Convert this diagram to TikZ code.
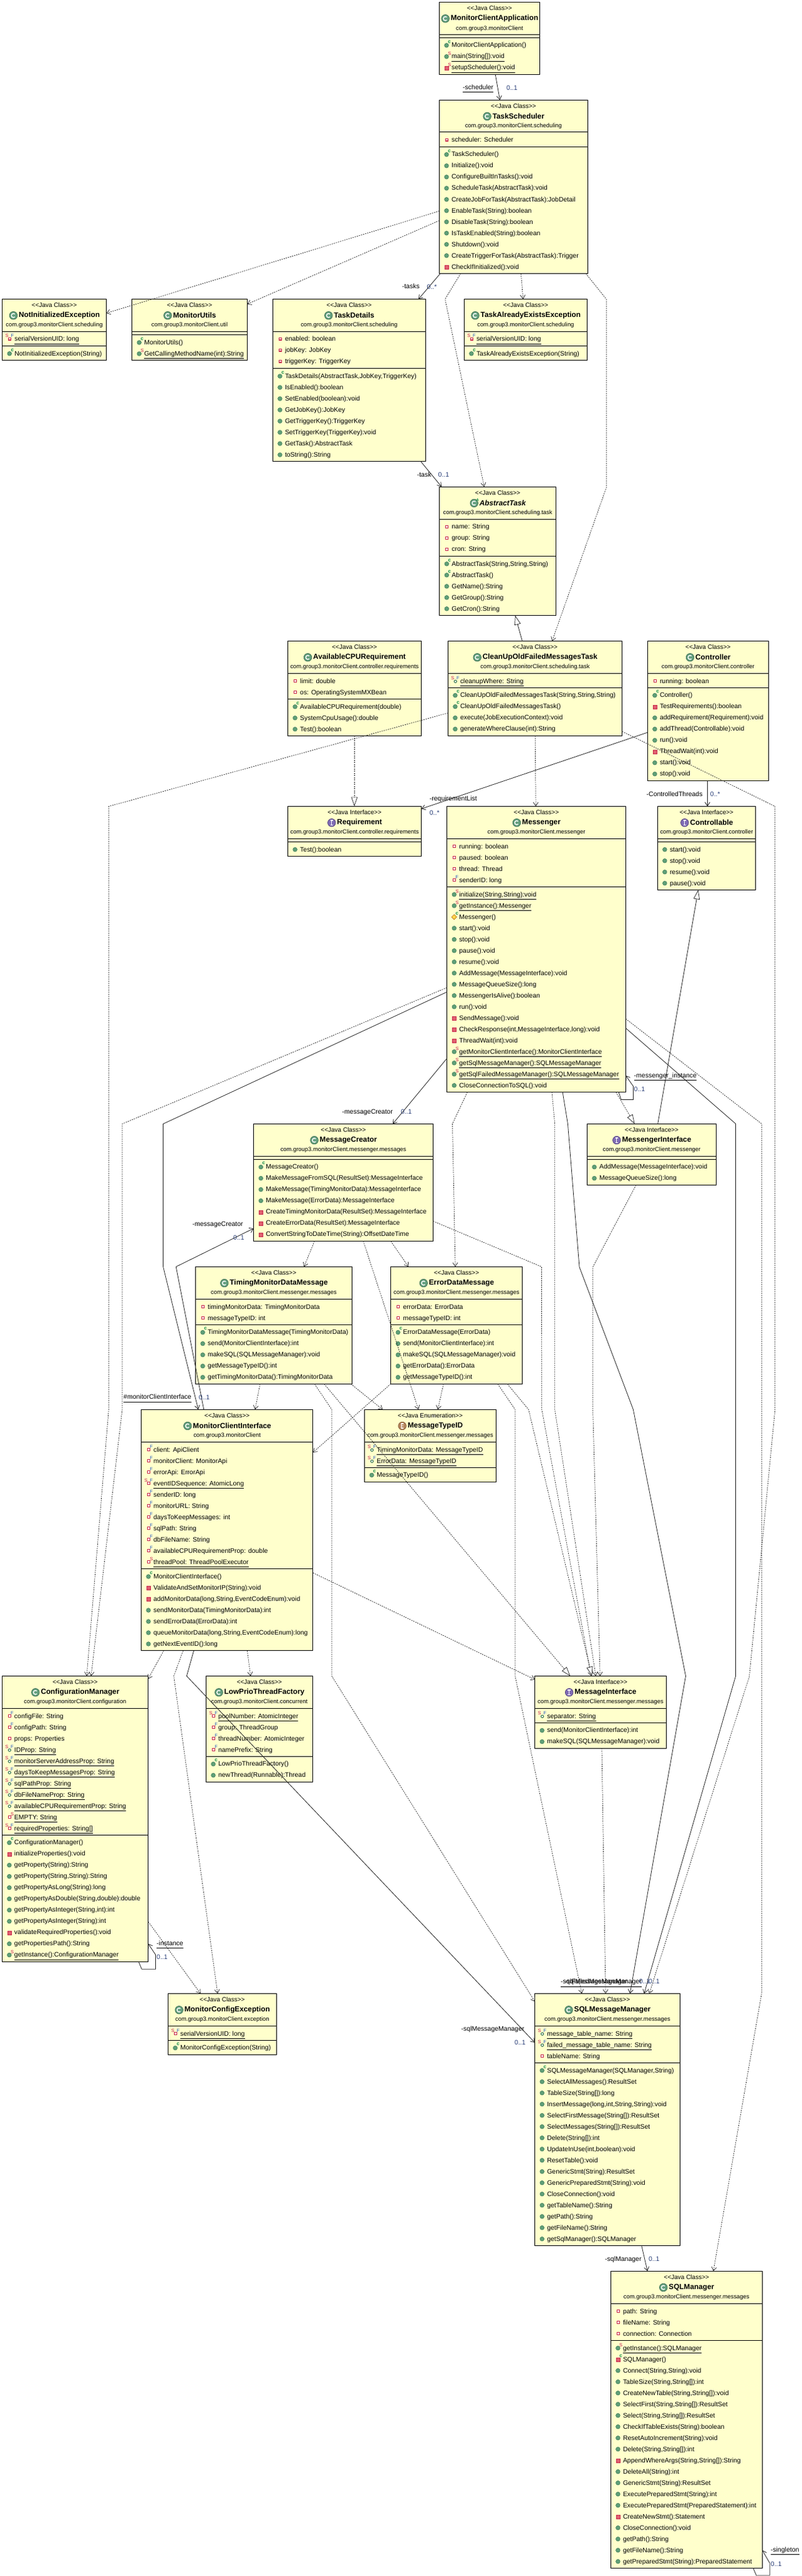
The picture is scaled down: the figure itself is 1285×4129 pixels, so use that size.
\documentclass[tikz,border=0pt]{standalone}
\usepackage{fontspec}
\usetikzlibrary{arrows.meta}
\newfontfamily\umlfont{Liberation Sans}
\definecolor{boxfill}{HTML}{FFFFCC}
\definecolor{pubgreen}{HTML}{5F9F78}
\definecolor{pubedge}{HTML}{3C7A55}
\definecolor{privred}{HTML}{E0606F}
\definecolor{privedge}{HTML}{C8294B}
\definecolor{flagS}{HTML}{C8184B}
\definecolor{flagF}{HTML}{2A5CC0}
\definecolor{flagC}{HTML}{0E8A45}
\definecolor{icC}{HTML}{4A8F68}
\definecolor{icI}{HTML}{6A52A8}
\definecolor{icE}{HTML}{A8703F}
\definecolor{multc}{HTML}{2A3F78}
\definecolor{conn}{HTML}{222222}
\tikzset{
  cbox/.style={rectangle,draw=black,fill=boxfill,line width=1pt,inner sep=0pt,outer sep=0pt,anchor=north west},
  stereo/.style={inner sep=0pt,font=\umlfont\fontsize{10}{12}\selectfont},
  ctitle/.style={inner sep=0pt,font=\umlfont\bfseries\fontsize{11.8}{14}\selectfont},
  cpkg/.style={inner sep=0pt,font=\umlfont\fontsize{9.4}{12}\selectfont},
  rowtext/.style={inner sep=0pt,anchor=base west,font=\umlfont\fontsize{10.45}{12}\selectfont},
  flagtext/.style={inner sep=0pt,font=\umlfont\fontsize{7.5}{8}\selectfont},
  lbl/.style={inner sep=0pt,anchor=base west,font=\umlfont\fontsize{10.5}{12}\selectfont},
  mlt/.style={lbl,text=multc},
  seprule/.style={line width=1pt,draw=black},
  dep/.style={draw=conn,line width=0.7pt,dash pattern=on 2pt off 1.5pt,-{Straight Barb[length=6pt,width=8pt,line width=0.7pt]}},
  assoc/.style={draw=conn,line width=0.8pt,-{Straight Barb[length=6pt,width=8pt,line width=0.8pt]}},
  gensolid/.style={draw=conn,line width=0.8pt,-{Triangle[length=15pt,width=10pt,fill=white,line width=0.7pt]}},
  gendash/.style={draw=conn,line width=0.7pt,dash pattern=on 2pt off 1.5pt,-{Triangle[length=15pt,width=10pt,fill=white,line width=0.7pt]}},
}
\newcount\rownum
\gdef\rowY{0}\gdef\bxa{0}\gdef\bxb{0}
% class box: name x1 y1 x2 y2 stereotype icon title package
\newcommand{\classbox}[9]{%
  \gdef\bxa{#2}\gdef\bxb{#4}%
  \node[cbox,minimum width={(#4-#2)*1pt},minimum height={(#5-#3)*1pt}] (#1) at (#2,#3) {};
  \node[stereo] (#1-st) at ([yshift=-9.5pt]#1.north) {#6};
  \node[ctitle] (#1-title) at ([xshift=8pt,yshift=-26pt]#1.north) {#8};
  \node[cpkg] (#1-pkg) at ([yshift=-42pt]#1.north) {#9};
  \path (#1-title.west) ++(-8.5,0.2) coordinate (#1-ic);
  \csname hd#7\endcsname{#1-ic}
}
\newcommand{\hdbase}[2]{\fill[#2!85!white,draw=#2!75!black,line width=0.7pt] (#1) circle (6.3pt);}
\newcommand{\hdC}[1]{\hdbase{#1}{icC}\draw[white,line width=1.4pt,shift={(#1)}] (45:3.2pt) arc (45:315:3.2pt);}
\newcommand{\hdI}[1]{\hdbase{#1}{icI}\draw[white,line width=1.3pt,shift={(#1)}] (0pt,3.6pt) -- (0pt,-3.6pt) (-2.2pt,3.6pt) -- (2.2pt,3.6pt) (-2.2pt,-3.6pt) -- (2.2pt,-3.6pt);}
\newcommand{\hdE}[1]{\hdbase{#1}{icE}\draw[white,line width=1.1pt,shift={(#1)}] (2.4pt,3.5pt) -- (-2pt,3.5pt) -- (-2pt,-3.5pt) -- (2.4pt,-3.5pt) (-2pt,0pt) -- (2pt,0pt);}
\newcommand{\sepat}[1]{%
  \draw[seprule] (\bxa,#1) -- (\bxb,#1);
  \pgfmathparse{#1+12}\global\let\rowY\pgfmathresult
}
\newcommand{\flagS}[1]{\node[flagtext,text=flagS] (i\the\rownum s) at ({\bxa+#1},{\rowY-4.6}) {S};}
\newcommand{\flagF}{\node[flagtext,text=flagF] (i\the\rownum f) at ({\bxa+16.2},{\rowY-4.8}) {F};}
\newcommand{\flagc}{\node[flagtext,text=flagC,font=\umlfont\bfseries\fontsize{8}{8}\selectfont] (i\the\rownum c) at ({\bxa+16.2},{\rowY-5.4}) {c};}
\newcommand{\icsq}{\draw[privedge,fill=white,line width=1.1pt] ({\bxa+10.2},{\rowY-1.7}) rectangle ({\bxa+13.9},{\rowY+2});}
\newcommand{\icring}{\draw[pubedge,fill=white,line width=1.1pt] ({\bxa+12},{\rowY+0.8}) circle (2.1pt);}
\newcommand{\icdot}{\fill[pubgreen,draw=pubedge,line width=0.5pt] ({\bxa+11.6},{\rowY+0.4}) circle (3.4pt);}
\newcommand{\icpm}{\fill[privred,draw=privedge,line width=0.6pt] ({\bxa+8.8},{\rowY-2.4}) rectangle ({\bxa+14.8},{\rowY+3.6});}
\newcommand{\icdia}{\fill[yellow!60!orange!70!white,draw=orange!70!black,line width=0.5pt] ({\bxa+7.5},{\rowY+0.5}) -- ({\bxa+11.6},{\rowY-3.6}) -- ({\bxa+15.7},{\rowY+0.5}) -- ({\bxa+11.6},{\rowY+4.6}) -- cycle;}
\makeatletter
\@namedef{kd@f}{\icsq}
\@namedef{kd@ff}{\icsq\flagF}
\@namedef{kd@fsf}{\icsq\flagS{7.6}\flagF}
\@namedef{kd@fs}{\icsq\flagS{16.4}}
\@namedef{kd@rsf}{\icring\flagS{7.6}\flagF}
\@namedef{kd@m}{\icdot}
\@namedef{kd@mc}{\icdot\flagc}
\@namedef{kd@ms}{\icdot\flagS{16.4}}
\@namedef{kd@p}{\icpm}
\@namedef{kd@pc}{\icpm\flagc}
\@namedef{kd@ps}{\icpm\flagS{16.4}}
\@namedef{kd@dc}{\icdia\flagc}
\makeatother
\newcommand{\nextrow}{\pgfmathparse{\rowY+18}\global\let\rowY\pgfmathresult}
\newcommand{\rw}[2]{%
  \global\advance\rownum by 1
  \csname kd@#1\endcsname
  \node[rowtext] (r\the\rownum) at ({\bxa+19.5},{\rowY+3.7}) {#2};
  \nextrow
}
\newcommand{\ru}[2]{%
  \global\advance\rownum by 1
  \csname kd@#1\endcsname
  \node[rowtext] (r\the\rownum) at ({\bxa+19.5},{\rowY+3.7}) {#2};
  \draw[line width=0.8pt,black] ([yshift=-4.3pt]r\the\rownum.base west) -- ([yshift=-4.3pt]r\the\rownum.base east);
  \nextrow
}
\newcommand{\lb}[4]{\node[lbl] (#1) at (#2,{#3+3.7}) {#4};}
\newcommand{\lbu}[4]{\node[lbl] (#1) at (#2,{#3+3.7}) {#4};
  \draw[line width=0.8pt,black] ([yshift=-4.2pt]#1.base west) -- ([yshift=-4.2pt]#1.base east);}
\newcommand{\mlabel}[4]{\node[mlt] (#1) at (#2,{#3+3.7}) {#4};}
\begin{document}
\begin{tikzpicture}[x=1pt,y=-1pt]
\useasboundingbox (0,0) rectangle (1285,4129);
\newcommand{\JC}{<<Java Class>>}
\newcommand{\JI}{<<Java Interface>>}
\newcommand{\PK}{com.group3.monitorClient}
%
\classbox{app}{704.4}{3.6}{865.5}{119.6}{\JC}{C}{MonitorClientApplication}{\PK}
\sepat{55.4}\sepat{60.3}
\rw{mc}{MonitorClientApplication()}\ru{ms}{main(String[]):void}\ru{ps}{setupScheduler():void}
%
\classbox{ts}{704.4}{160.3}{942.3}{438.4}{\JC}{C}{TaskScheduler}{\PK.scheduling}
\sepat{212}\rw{f}{scheduler: Scheduler}
\sepat{235.3}
\rw{mc}{TaskScheduler()}\rw{m}{Initialize():void}\rw{m}{ConfigureBuiltInTasks():void}\rw{m}{ScheduleTask(AbstractTask):void}\rw{m}{CreateJobForTask(AbstractTask):JobDetail}\rw{m}{EnableTask(String):boolean}\rw{m}{DisableTask(String):boolean}\rw{m}{IsTaskEnabled(String):boolean}\rw{m}{Shutdown():void}\rw{m}{CreateTriggerForTask(AbstractTask):Trigger}\rw{p}{CheckIfInitialized():void}
%
\classbox{nie}{3.6}{479.5}{170.5}{577.5}{\JC}{C}{NotInitializedException}{\PK.scheduling}
\sepat{531}\ru{fsf}{serialVersionUID: long}
\sepat{554.4}\rw{mc}{NotInitializedException(String)}
%
\classbox{mu}{211.6}{479.5}{396.4}{577.5}{\JC}{C}{MonitorUtils}{\PK.util}
\sepat{531}\sepat{536.6}\rw{mc}{MonitorUtils()}\ru{ms}{GetCallingMethodName(int):String}
%
\classbox{td}{437.3}{479.5}{682.4}{739.2}{\JC}{C}{TaskDetails}{\PK.scheduling}
\sepat{531}\rw{f}{enabled: boolean}\rw{f}{jobKey: JobKey}\rw{f}{triggerKey: TriggerKey}
\sepat{590.6}\rw{mc}{TaskDetails(AbstractTask,JobKey,TriggerKey)}\rw{m}{IsEnabled():boolean}\rw{m}{SetEnabled(boolean):void}\rw{m}{GetJobKey():JobKey}\rw{m}{GetTriggerKey():TriggerKey}\rw{m}{SetTriggerKey(TriggerKey):void}\rw{m}{GetTask():AbstractTask}\rw{m}{toString():String}
%
\classbox{tae}{744.3}{479.5}{941.5}{577.5}{\JC}{C}{TaskAlreadyExistsException}{\PK.scheduling}
\sepat{531}\ru{fsf}{serialVersionUID: long}
\sepat{554.4}\rw{mc}{TaskAlreadyExistsException(String)}
%
\classbox{at}{704.7}{780.2}{891.5}{986.5}{\JC}{C}{\itshape AbstractTask}{\PK.scheduling.task}
\node[flagtext,text=flagC,font=\umlfont\bfseries\fontsize{6}{6}\selectfont] (at-A) at ([xshift=5.5pt,yshift=5pt]at-ic) {A};
\sepat{832.2}\rw{f}{name: String}\rw{f}{group: String}\rw{f}{cron: String}
\sepat{891.4}\rw{mc}{AbstractTask(String,String,String)}\rw{mc}{AbstractTask()}\rw{m}{GetName():String}\rw{m}{GetGroup():String}\rw{m}{GetCron():String}
%
\classbox{cpu}{461.5}{1027.5}{675.4}{1179.3}{\JC}{C}{AvailableCPURequirement}{\PK.controller.requirements}
\sepat{1079.4}\rw{f}{limit: double}\rw{f}{os: OperatingSystemMXBean}
\sepat{1120.4}\rw{mc}{AvailableCPURequirement(double)}\rw{m}{SystemCpuUsage():double}\rw{m}{Test():boolean}
%
\classbox{clean}{718.3}{1027.5}{997.6}{1179.3}{\JC}{C}{CleanUpOldFailedMessagesTask}{\PK.scheduling.task}
\sepat{1079.4}\ru{rsf}{cleanupWhere: String}
\sepat{1102.2}\rw{mc}{CleanUpOldFailedMessagesTask(String,String,String)}\rw{mc}{CleanUpOldFailedMessagesTask()}\rw{m}{execute(JobExecutionContext):void}\rw{m}{generateWhereClause(int):String}
%
\classbox{ctl}{1038.3}{1027.5}{1232.4}{1251.4}{\JC}{C}{Controller}{\PK.controller}
\sepat{1079.4}\rw{f}{running: boolean}
\sepat{1102.2}\rw{mc}{Controller()}\rw{p}{TestRequirements():boolean}\rw{m}{addRequirement(Requirement):void}\rw{m}{addThread(Controllable):void}\rw{m}{run():void}\rw{p}{ThreadWait(int):void}\rw{m}{start():void}\rw{m}{stop():void}
%
\classbox{req}{461.5}{1292.5}{675.6}{1372.5}{\JI}{I}{Requirement}{\PK.controller.requirements}
\sepat{1344.3}\sepat{1349.3}\rw{m}{Test():boolean}
%
\classbox{msg}{716.7}{1292.5}{1003.4}{1750.4}{\JC}{C}{Messenger}{\PK.messenger}
\sepat{1344.3}\rw{f}{running: boolean}\rw{f}{paused: boolean}\rw{f}{thread: Thread}\rw{ff}{senderID: long}
\sepat{1421.4}\ru{ms}{initialize(String,String):void}\ru{ms}{getInstance():Messenger}\rw{dc}{Messenger()}\rw{m}{start():void}\rw{m}{stop():void}\rw{m}{pause():void}\rw{m}{resume():void}\rw{m}{AddMessage(MessageInterface):void}\rw{m}{MessageQueueSize():long}\rw{m}{MessengerIsAlive():boolean}\rw{m}{run():void}\rw{p}{SendMessage():void}\rw{p}{CheckResponse(int,MessageInterface,long):void}\rw{p}{ThreadWait(int):void}\ru{ms}{getMonitorClientInterface():MonitorClientInterface}\ru{ms}{getSqlMessageManager():SQLMessageManager}\ru{ms}{getSqlFailedMessageManager():SQLMessageManager}\rw{m}{CloseConnectionToSQL():void}
%
\classbox{ctlb}{1054.3}{1292.5}{1211.6}{1426.4}{\JI}{I}{Controllable}{\PK.controller}
\sepat{1344.3}\sepat{1349.3}\rw{m}{start():void}\rw{m}{stop():void}\rw{m}{resume():void}\rw{m}{pause():void}
%
\classbox{mc}{406.7}{1801.4}{694.5}{1989.3}{\JC}{C}{MessageCreator}{\PK.messenger.messages}
\sepat{1853.2}\sepat{1858.2}\rw{mc}{MessageCreator()}\rw{m}{MakeMessageFromSQL(ResultSet):MessageInterface}\rw{m}{MakeMessage(TimingMonitorData):MessageInterface}\rw{m}{MakeMessage(ErrorData):MessageInterface}\rw{p}{CreateTimingMonitorData(ResultSet):MessageInterface}\rw{p}{CreateErrorData(ResultSet):MessageInterface}\rw{p}{ConvertStringToDateTime(String):OffsetDateTime}
%
\classbox{msgi}{941.4}{1801.4}{1148.5}{1899.2}{\JI}{I}{MessengerInterface}{\PK.messenger}
\sepat{1853.2}\sepat{1858.2}\rw{m}{AddMessage(MessageInterface):void}\rw{m}{MessageQueueSize():long}
%
\classbox{tdm}{313.5}{2030.4}{564.6}{2218.2}{\JC}{C}{TimingMonitorDataMessage}{\PK.messenger.messages}
\sepat{2082.5}\rw{f}{timingMonitorData: TimingMonitorData}\rw{f}{messageTypeID: int}
\sepat{2123.2}\rw{mc}{TimingMonitorDataMessage(TimingMonitorData)}\rw{m}{send(MonitorClientInterface):int}\rw{m}{makeSQL(SQLMessageManager):void}\rw{m}{getMessageTypeID():int}\rw{m}{getTimingMonitorData():TimingMonitorData}
%
\classbox{edm}{626.6}{2030.4}{837.4}{2218.2}{\JC}{C}{ErrorDataMessage}{\PK.messenger.messages}
\sepat{2082.5}\rw{f}{errorData: ErrorData}\rw{f}{messageTypeID: int}
\sepat{2123.2}\rw{mc}{ErrorDataMessage(ErrorData)}\rw{m}{send(MonitorClientInterface):int}\rw{m}{makeSQL(SQLMessageManager):void}\rw{m}{getErrorData():ErrorData}\rw{m}{getMessageTypeID():int}
%
\classbox{mci}{226.4}{2259.3}{501.8}{2645.7}{\JC}{C}{MonitorClientInterface}{\PK}
\sepat{2311.4}\rw{ff}{client: ApiClient}\rw{ff}{monitorClient: MonitorApi}\rw{ff}{errorApi: ErrorApi}\ru{fsf}{eventIDSequence: AtomicLong}\rw{ff}{senderID: long}\rw{ff}{monitorURL: String}\rw{ff}{daysToKeepMessages: int}\rw{ff}{sqlPath: String}\rw{ff}{dbFileName: String}\rw{ff}{availableCPURequirementProp: double}\ru{fs}{threadPool: ThreadPoolExecutor}
\sepat{2514.6}\rw{mc}{MonitorClientInterface()}\rw{p}{ValidateAndSetMonitorIP(String):void}\rw{p}{addMonitorData(long,String,EventCodeEnum):void}\rw{m}{sendMonitorData(TimingMonitorData):int}\rw{m}{sendErrorData(ErrorData):int}\rw{m}{queueMonitorData(long,String,EventCodeEnum):long}\rw{m}{getNextEventID():long}
%
\classbox{mti}{584.5}{2259.3}{795.3}{2375.6}{<<Java Enumeration>>}{E}{MessageTypeID}{\PK.messenger.messages}
\sepat{2311.4}\ru{rsf}{TimingMonitorData: MessageTypeID}\ru{rsf}{ErrorData: MessageTypeID}
\sepat{2352}\rw{mc}{MessageTypeID()}
%
\classbox{cfg}{3.3}{2686.5}{237.6}{3144.5}{\JC}{C}{ConfigurationManager}{\PK.configuration}
\sepat{2738.4}\rw{ff}{configFile: String}\rw{ff}{configPath: String}\rw{f}{props: Properties}\ru{rsf}{IDProp: String}\ru{rsf}{monitorServerAddressProp: String}\ru{rsf}{daysToKeepMessagesProp: String}\ru{rsf}{sqlPathProp: String}\ru{rsf}{dbFileNameProp: String}\ru{rsf}{availableCPURequirementProp: String}\ru{fs}{EMPTY: String}\ru{fsf}{requiredProperties: String[]}
\sepat{2941.2}\rw{mc}{ConfigurationManager()}\rw{p}{initializeProperties():void}\rw{m}{getProperty(String):String}\rw{m}{getProperty(String,String):String}\rw{m}{getPropertyAsLong(String):long}\rw{m}{getPropertyAsDouble(String,double):double}\rw{m}{getPropertyAsInteger(String,int):int}\rw{m}{getPropertyAsInteger(String):int}\rw{p}{validateRequiredProperties():void}\rw{m}{getPropertiesPath():String}\ru{ms}{getInstance():ConfigurationManager}
%
\classbox{lpf}{330.4}{2686.5}{501.4}{2856.3}{\JC}{C}{LowPrioThreadFactory}{\PK.concurrent}
\sepat{2738.4}\ru{fsf}{poolNumber: AtomicInteger}\rw{ff}{group: ThreadGroup}\rw{ff}{threadNumber: AtomicInteger}\rw{ff}{namePrefix: String}
\sepat{2815.1}\rw{mc}{LowPrioThreadFactory()}\rw{m}{newThread(Runnable):Thread}
%
\classbox{mif}{857.6}{2686.5}{1068.2}{2802.4}{\JI}{I}{MessageInterface}{\PK.messenger.messages}
\sepat{2738.4}\ru{rsf}{separator: String}
\sepat{2761.2}\rw{m}{send(MonitorClientInterface):int}\rw{m}{makeSQL(SQLMessageManager):void}
%
\classbox{mce}{269.4}{3195.5}{443.3}{3293.5}{\JC}{C}{MonitorConfigException}{\PK.exception}
\sepat{3247.3}\ru{fsf}{serialVersionUID: long}
\sepat{3270.2}\rw{mc}{MonitorConfigException(String)}
%
\classbox{smm}{857.6}{3195.5}{1090.4}{3599.3}{\JC}{C}{SQLMessageManager}{\PK.messenger.messages}
\sepat{3247.3}\ru{rsf}{message\_table\_name: String}\ru{rsf}{failed\_message\_table\_name: String}\rw{f}{tableName: String}
\sepat{3306.3}\rw{mc}{SQLMessageManager(SQLManager,String)}\rw{m}{SelectAllMessages():ResultSet}\rw{m}{TableSize(String[]):long}\rw{m}{InsertMessage(long,int,String,String):void}\rw{m}{SelectFirstMessage(String[]):ResultSet}\rw{m}{SelectMessages(String[]):ResultSet}\rw{m}{Delete(String[]):int}\rw{m}{UpdateInUse(int,boolean):void}\rw{m}{ResetTable():void}\rw{m}{GenericStmt(String):ResultSet}\rw{m}{GenericPreparedStmt(String):void}\rw{m}{CloseConnection():void}\rw{m}{getTableName():String}\rw{m}{getPath():String}\rw{m}{getFileName():String}\rw{m}{getSqlManager():SQLManager}
%
\classbox{sm}{979.3}{3640.3}{1222.3}{4116.3}{\JC}{C}{SQLManager}{\PK.messenger.messages}
\sepat{3692.3}\rw{f}{path: String}\rw{f}{fileName: String}\rw{f}{connection: Connection}
\sepat{3751.3}\ru{ms}{getInstance():SQLManager}\rw{pc}{SQLManager()}\rw{m}{Connect(String,String):void}\rw{m}{TableSize(String,String[]):int}\rw{m}{CreateNewTable(String,String[]):void}\rw{m}{SelectFirst(String,String[]):ResultSet}\rw{m}{Select(String,String[]):ResultSet}\rw{m}{CheckIfTableExists(String):boolean}\rw{m}{ResetAutoIncrement(String):void}\rw{m}{Delete(String,String[]):int}\rw{p}{AppendWhereArgs(String,String[]):String}\rw{m}{DeleteAll(String):int}\rw{m}{GenericStmt(String):ResultSet}\rw{m}{ExecutePreparedStmt(String):int}\rw{m}{ExecutePreparedStmt(PreparedStatement):int}\rw{p}{CreateNewStmt():Statement}\rw{m}{CloseConnection():void}\rw{m}{getPath():String}\rw{m}{getFileName():String}\rw{m}{getPreparedStmt(String):PreparedStatement}
%
% ---- connectors ----
\draw[assoc] (794.3,0 |- app.south) -- (801.5,0 |- ts.north);
\draw[dep] (ts.west |- 0,338.4) -- (nie.east |- 0,502);
\draw[dep] (ts.west |- 0,353.6) -- (mu.east |- 0,487.5);
\draw[assoc] (706,0 |- ts.south) -- (671,0 |- td.north);
\draw[dep] (738.7,0 |- ts.south) -- (713.7,479.5) -- (776.4,0 |- at.north);
\draw[dep] (835.4,0 |- ts.south) -- (838.8,0 |- tae.north);
\draw[dep] (939.3,0 |- ts.south) -- (972.2,479.5) -- (972.2,781.6) -- (885.3,0 |- clean.north);
\draw[assoc] (674.3,0 |- td.south) -- (708,0 |- at.north);
\draw[gensolid] (837.4,0 |- clean.north) -- (826,0 |- at.south);
\draw[gendash] (568.2,0 |- cpu.south) -- (568.2,0 |- req.north);
\draw[dep] (clean.west |- 0,1142.8) -- (174.3,1292.5) -- (174.3,2259.3) -- (139,0 |- cfg.north);
\draw[dep] (858.2,0 |- clean.south) -- (859.2,0 |- msg.north);
\draw[dep] (clean.east |- 0,1172.4) -- (1242.8,1292.5) -- (1242.8,2259.3) -- (1201.5,2687) -- (1041,0 |- smm.north);
\draw[assoc] (1134.4,0 |- ctl.south) -- (1134.4,0 |- ctlb.north);
\draw[assoc] (ctl.west |- 0,1174) -- (req.east |- 0,1296.4);
\draw[dep] (msg.west |- 0,1583) -- (196,1801.4) -- (196,2259.3) -- (146,0 |- cfg.north);
\draw[assoc] (msg.west |- 0,1590) -- (261.6,1801.4) -- (261.6,2030.4) -- (317.9,0 |- mci.north);
\draw[assoc] (msg.west |- 0,1696.4) -- (629.8,0 |- mc.north);
\draw[dep] (749.5,0 |- msg.south) -- (725.5,1801.4) -- (730.1,0 |- edm.north);
\draw[dep] (885,0 |- msg.south) -- (889.6,1801.2) -- (889.6,2259.3) -- (955.3,0 |- mif.north);
\draw[assoc] (902.1,0 |- msg.south) -- (910.4,1801.2) -- (929,2030.9) -- (1015.4,2259.3) -- (1099.5,2686.5) -- (1010.2,0 |- smm.north);
\draw[gendash] (987.6,0 |- msg.south) -- (1017.7,0 |- msgi.north);
\draw[assoc] (992,0 |- msg.south) -- (996,1762.6) -- (1015.4,1762.6) -- (1015.4,1741) -- (msg.east |- 0,1724);
\draw[assoc] (msg.east |- 0,1648) -- (1179.6,1801.2) -- (1179.6,2686.5) -- (1032.8,0 |- smm.north);
\draw[dep] (msg.east |- 0,1633) -- (1221.2,1801.2) -- (1221.2,3195.5) -- (1143.9,0 |- sm.north);
\draw[gensolid] (1054.7,0 |- msgi.north) -- (1119.6,0 |- ctlb.south);
\draw[dep] (1020,0 |- msgi.south) -- (950.6,2030.9) -- (950.6,2259.3) -- (962.2,0 |- mif.north);
\draw[dep] (504.4,0 |- mc.south) -- (487.5,0 |- tdm.north);
\draw[dep] (626.6,0 |- mc.south) -- (655,0 |- edm.north);
\draw[dep] (582.5,0 |- mc.south) -- (671,0 |- mti.north);
\draw[dep] (mc.east |- 0,1957.4) -- (868.4,2030.4) -- (868.8,2259.3) -- (948,0 |- mif.north);
\draw[dep] (417,0 |- tdm.south) -- (409,0 |- mci.north);
\draw[dep] (562.5,0 |- tdm.south) -- (613.6,0 |- mti.north);
\draw[dep] (504.3,0 |- tdm.south) -- (532,2259.3) -- (532,2686.5) -- (mif.west |- 0,3208.2);
\draw[gendash] (519.6,0 |- tdm.south) -- (914.4,0 |- mif.north);
\draw[dep] (edm.west |- 0,2218.2) -- (mci.east |- 0,2328);
\draw[dep] (711.2,0 |- edm.south) -- (702,0 |- mti.north);
\draw[dep] (798,0 |- edm.south) -- (826,2259.3) -- (826,2686.5) -- (932.9,0 |- smm.north);
\draw[gendash] (813.4,0 |- edm.south) -- (847.6,2259.3) -- (949,0 |- mif.north);
\draw[assoc] (326.8,0 |- mci.north) -- (282.2,2030.4) -- (mc.west |- 0,1969);
\draw[dep] (mci.east |- 0,2521) -- (mif.west |- 0,2692);
\draw[dep] (262.5,0 |- mci.south) -- (cfg.east |- 0,2691);
\draw[dep] (396.4,0 |- mci.south) -- (401.8,0 |- lpf.north);
\draw[dep] (293.6,0 |- mci.south) -- (278.6,2686.5) -- (349,0 |- mce.north);
\draw[assoc] (310.7,0 |- mci.south) -- (299.3,2686.5) -- (smm.west |- 0,3274);
\draw[dep] (cfg.east |- 0,3080) -- (321.6,0 |- mce.north);
\draw[assoc] (222.4,0 |- cfg.south) -- (227.3,3156.3) -- (249.4,3156.3) -- (249.4,3133) -- (cfg.east |- 0,3115.5);
\draw[dep] (965,0 |- mif.south) -- (971.1,0 |- smm.north);
\draw[assoc] (1028.7,0 |- smm.south) -- (1038.2,0 |- sm.north);
\draw[assoc] (1207.7,0 |- sm.south) -- (1212.7,4128) -- (1234.3,4128) -- (1234.3,4108.3) -- (sm.east |- 0,4087.7);
%
% ---- connector labels ----
\lbu{l1}{742}{140}{-scheduler}\mlabel{m1}{812}{141}{0..1}
\lb{l2}{644.6}{459}{-tasks}\mlabel{m2}{684.5}{460}{0..*}
\lb{l3}{668.6}{760.6}{-task}\mlabel{m3}{702.5}{761}{0..1}
\lb{l4}{1036.5}{1272.5}{-ControlledThreads}\mlabel{m4}{1138.7}{1273}{0..*}
\lb{l5}{688.7}{1280}{-requirementList}\mlabel{m5}{688.7}{1303}{0..*}
\lbu{l6}{1016.5}{1723.6}{-messenger\_instance}\mlabel{m6}{1016.5}{1746}{0..1}
\lb{l7}{548.5}{1781.4}{-messageCreator}\mlabel{m7}{642.6}{1782}{0..1}
\lb{l8}{308.4}{1961.4}{-messageCreator}\mlabel{m8}{374}{1984}{0..1}
\lbu{l9}{198}{2239}{\#monitorClientInterface}\mlabel{m9}{318.6}{2240}{0..1}
\lb{l10}{739.5}{3251.4}{-sqlMessageManager}\mlabel{m10}{825}{3274}{0..1}
\lbu{l11}{251}{3114.7}{-instance}\mlabel{m11}{251}{3137}{0..1}
\lbu{l12}{899}{3176}{-sqlFailedMessageManager}\mlabel{m12}{1024.6}{3176}{0..1}
\lbu{l13}{905}{3176}{-sqlMessageManager}\mlabel{m13}{1040}{3176}{0..1}
\lb{l14}{970}{3620.7}{-sqlManager}\mlabel{m14}{1039.8}{3621}{0..1}
\lbu{l15}{1235.7}{4086.7}{-singleton}\mlabel{m15}{1235.7}{4109.3}{0..1}
\end{tikzpicture}
\end{document}
